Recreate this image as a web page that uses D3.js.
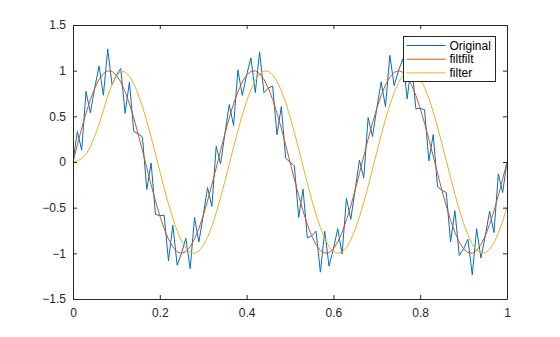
<!DOCTYPE html>
<html lang="en">
<head>
<meta charset="utf-8">
<title>filtfilt vs filter</title>
<style>
  body { margin: 0; background: #fff; }
  svg { display: block; font-family: "Liberation Sans", Arial, sans-serif; }
  .axis text { font-size: 12px; fill: #262626; }
  .axis path, .axis line { stroke: #262626; }
  .trace { fill: none; stroke-width: 1px; }
</style>
<script src="https://cdn.jsdelivr.net/npm/d3@7"></script>
</head>
<body>
<script>
// time samples 0:0.01:1
var t = d3.range(101).map(function(i) { return i / 100; });

var original = [0, 0.3343, 0.1303, 0.7736, 0.5376, 0.8090, 1.0517, 0.7308, 1.2358, 0.8452,
  0.9511, 1.0232, 0.5327, 0.8752, 0.3349, 0.3090, 0.2722, -0.3006, -0.0109, -0.5727,
  -0.5878, -0.5821, -1.0821, -0.6920, -1.1292, -1.0, -0.8354, -1.1676, -0.6065, -0.8759,
  -0.5878, -0.2789, -0.4865, 0.1750, -0.0216, 0.3090, 0.6287, 0.3996, 1.0083, 0.7294,
  0.9511, 1.1390, 0.7602, 1.2064, 0.7579, 0.8090, 0.8314, 0.2980, 0.6059, 0.0405,
  0, -0.0405, -0.6059, -0.2980, -0.8314, -0.8090, -0.7579, -1.2064, -0.7602, -1.1390,
  -0.9511, -0.7294, -1.0083, -0.3996, -0.6287, -0.3090, 0.0216, -0.1750, 0.4865, 0.2789,
  0.5878, 0.8759, 0.6065, 1.1676, 0.8354, 1.0, 1.1292, 0.6920, 1.0821, 0.5821,
  0.5878, 0.5727, 0.0109, 0.3006, -0.2722, -0.3090, -0.3349, -0.8752, -0.5327, -1.0232,
  -0.9511, -0.8452, -1.2358, -0.7308, -1.0517, -0.8090, -0.5376, -0.7736, -0.1303, -0.3343, 0];

var filtfiltOut = [0, 0.1874, 0.3681, 0.5358, 0.6845, 0.8090, 0.9048, 0.9686, 0.9980, 0.9921,
  0.9511, 0.8763, 0.7705, 0.6374, 0.4818, 0.3090, 0.1253, -0.0628, -0.2487, -0.4258,
  -0.5878, -0.7290, -0.8443, -0.9298, -0.9823, -1.0, -0.9823, -0.9298, -0.8443, -0.7290,
  -0.5878, -0.4258, -0.2487, -0.0628, 0.1253, 0.3090, 0.4818, 0.6374, 0.7705, 0.8763,
  0.9511, 0.9921, 0.9980, 0.9686, 0.9048, 0.8090, 0.6845, 0.5358, 0.3681, 0.1874,
  0, -0.1874, -0.3681, -0.5358, -0.6845, -0.8090, -0.9048, -0.9686, -0.9980, -0.9921,
  -0.9511, -0.8763, -0.7705, -0.6374, -0.4818, -0.3090, -0.1253, 0.0628, 0.2487, 0.4258,
  0.5878, 0.7290, 0.8443, 0.9298, 0.9823, 1.0, 0.9823, 0.9298, 0.8443, 0.7290,
  0.5878, 0.4258, 0.2487, 0.0628, -0.1253, -0.3090, -0.4818, -0.6374, -0.7705, -0.8763,
  -0.9511, -0.9921, -0.9980, -0.9686, -0.9048, -0.8090, -0.6845, -0.5358, -0.3681, -0.1874, 0];

var filterOut = [0, 0.010, 0.040, 0.085, 0.165, 0.280, 0.410, 0.566, 0.720, 0.850,
  0.940, 0.990, 0.9867, 0.9388, 0.8575, 0.7458, 0.6080, 0.4483, 0.2730, 0.0879,
  -0.1004, -0.2850, -0.4596, -0.6179, -0.7545, -0.8640, -0.9430, -0.9887, -0.9993, -0.9745,
  -0.9152, -0.8236, -0.7034, -0.5569, -0.3914, -0.2120, -0.0251, 0.1626, 0.3446, 0.5143,
  0.6659, 0.7940, 0.8937, 0.9620, 0.9968, 0.9941, 0.9561, 0.8842, 0.7812, 0.6502,
  0.4964, 0.3249, 0.1419, -0.0461, -0.2325, -0.4106, -0.5742, -0.7175, -0.8352, -0.9235,
  -0.9790, -0.9999, -0.9853, -0.9358, -0.8531, -0.7406, -0.6013, -0.4409, -0.2649, -0.0795,
  0.1087, 0.2930, 0.4670, 0.6244, 0.7598, 0.8681, 0.9458, 0.9899, 0.9989, 0.9726,
  0.9118, 0.8187, 0.6967, 0.5499, 0.3836, 0.2038, 0.0168, -0.1709, -0.3525, -0.5217,
  -0.6723, -0.7993, -0.8976, -0.9643, -0.9968, -0.9941, -0.9561, -0.8842, -0.7812, -0.6502, -0.4964];

var seriesNames = ["Original", "filtfilt", "filter"];
var seriesColors = ["#0072BD", "#D95319", "#EDB120"];
var xTicks = [0, 0.2, 0.4, 0.6, 0.8, 1];
var yTicks = [-1.5, -1, -0.5, 0, 0.5, 1, 1.5];

var W = 560, H = 337;
var pLeft = 73, pRight = 507, pTop = 25, pBottom = 299;

var svg = d3.select("body").append("svg")
  .attr("width", W)
  .attr("height", H);

var x = d3.scaleLinear().domain([0, 1]).range([pLeft, pRight]);
var y = d3.scaleLinear().domain([-1.5, 1.5]).range([pBottom, pTop]);

// plot area clip
svg.append("clipPath").attr("id", "plotclip")
  .append("rect")
  .attr("x", pLeft).attr("y", pTop)
  .attr("width", pRight - pLeft).attr("height", pBottom - pTop);

var line = d3.line()
  .x(function(d, i) { return x(t[i]); })
  .y(function(d) { return y(d); });

var plot = svg.append("g").attr("clip-path", "url(#plotclip)");
[original, filtfiltOut, filterOut].forEach(function(data, k) {
  plot.append("path")
    .attr("class", "trace")
    .attr("d", line(data))
    .attr("stroke", seriesColors[k]);
});

// axes - MATLAB style box with inward ticks on all sides
var fmt = function(d) { return d3.format("")(d); };

svg.append("g").attr("class", "axis")
  .attr("transform", "translate(0," + pBottom + ")")
  .call(d3.axisBottom(x).tickValues(xTicks).tickSizeInner(-4).tickSizeOuter(0).tickPadding(9).tickFormat(fmt));
svg.append("g").attr("class", "axis")
  .attr("transform", "translate(0," + pTop + ")")
  .call(d3.axisTop(x).tickValues(xTicks).tickSizeInner(-4).tickSizeOuter(0).tickFormat(""));
svg.append("g").attr("class", "axis")
  .attr("transform", "translate(" + pLeft + ",0)")
  .call(d3.axisLeft(y).tickValues(yTicks).tickSizeInner(-4).tickSizeOuter(0).tickPadding(7).tickFormat(fmt));
svg.append("g").attr("class", "axis")
  .attr("transform", "translate(" + pRight + ",0)")
  .call(d3.axisRight(y).tickValues(yTicks).tickSizeInner(-4).tickSizeOuter(0).tickFormat(""));

svg.selectAll(".axis path").attr("stroke-width", 1);
svg.selectAll(".axis text").attr("font-family", "Liberation Sans, Arial, sans-serif");

// legend
var lg = svg.append("g").attr("transform", "translate(403.5,36.5)");
lg.append("rect")
  .attr("width", 92).attr("height", 45)
  .attr("fill", "#fff")
  .attr("stroke", "#262626")
  .attr("stroke-width", 1);
seriesNames.forEach(function(name, k) {
  var ly = 9 + k * 13.7;
  lg.append("line")
    .attr("x1", 3).attr("x2", 42)
    .attr("y1", ly).attr("y2", ly)
    .attr("stroke", seriesColors[k])
    .attr("stroke-width", 1);
  lg.append("text")
    .attr("x", 46).attr("y", ly)
    .attr("dy", "0.35em")
    .attr("font-size", "12px")
    .attr("fill", "#000")
    .text(name);
});
</script>
</body>
</html>
